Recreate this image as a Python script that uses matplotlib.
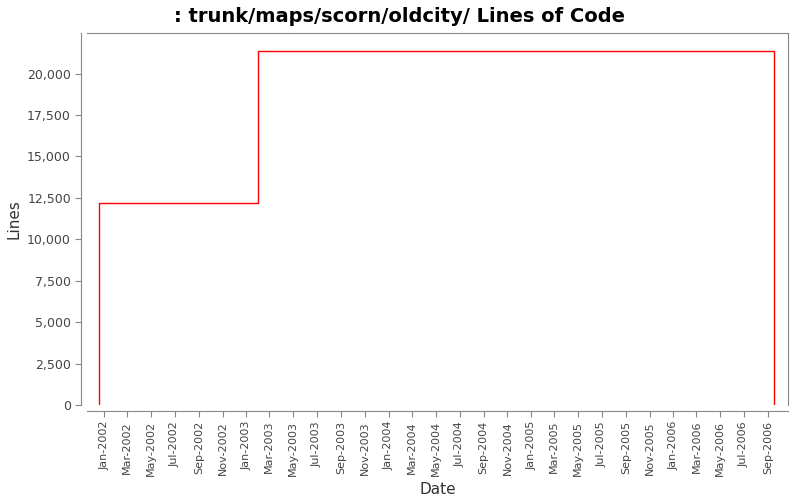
import matplotlib
matplotlib.use('Agg')
import matplotlib.pyplot as plt
import matplotlib.dates as mdates
import matplotlib.ticker as mticker
from datetime import datetime

# step data (date, lines)
dates = [datetime(2001, 12, 19), datetime(2003, 1, 30), datetime(2006, 9, 16)]
lines = [12200, 21390, 0]

fig = plt.figure(figsize=(8, 5), dpi=100)
ax = fig.add_axes([87/800, 1-405/500, 701/800, 372/500])

xs = [dates[0]] + dates
ys = [0] + lines
ax.step(xs, ys, where='post', color='red', lw=1)

ax.set_xlim(datetime(2001, 11, 18), datetime(2006, 10, 22))
ax.set_ylim(0, 22450)
ax.yaxis.set_major_locator(mticker.MultipleLocator(2500))
ax.yaxis.set_major_formatter(mticker.FuncFormatter(lambda v, p: f'{int(v):,}'))
ax.xaxis.set_major_locator(mdates.MonthLocator(bymonth=[1, 3, 5, 7, 9, 11]))
ax.xaxis.set_major_formatter(mdates.DateFormatter('%b-%Y'))

for s in ax.spines.values():
    s.set_color('#888888')
ax.spines['left'].set_position(('outward', 4))
ax.spines['bottom'].set_position(('outward', 4))
ax.tick_params(colors='#888888', length=4, labelcolor='#444444')
ax.tick_params(axis='x', labelrotation=90, labelsize=8)
ax.tick_params(axis='y', labelsize=9)

ax.set_xlabel('Date', fontsize=11, color='#333333')
ax.set_ylabel('Lines', fontsize=11, color='#333333')
fig.suptitle(': trunk/maps/scorn/oldcity/ Lines of Code', fontsize=14, fontweight='bold', y=0.985)

fig.savefig('out.png', dpi=100)
